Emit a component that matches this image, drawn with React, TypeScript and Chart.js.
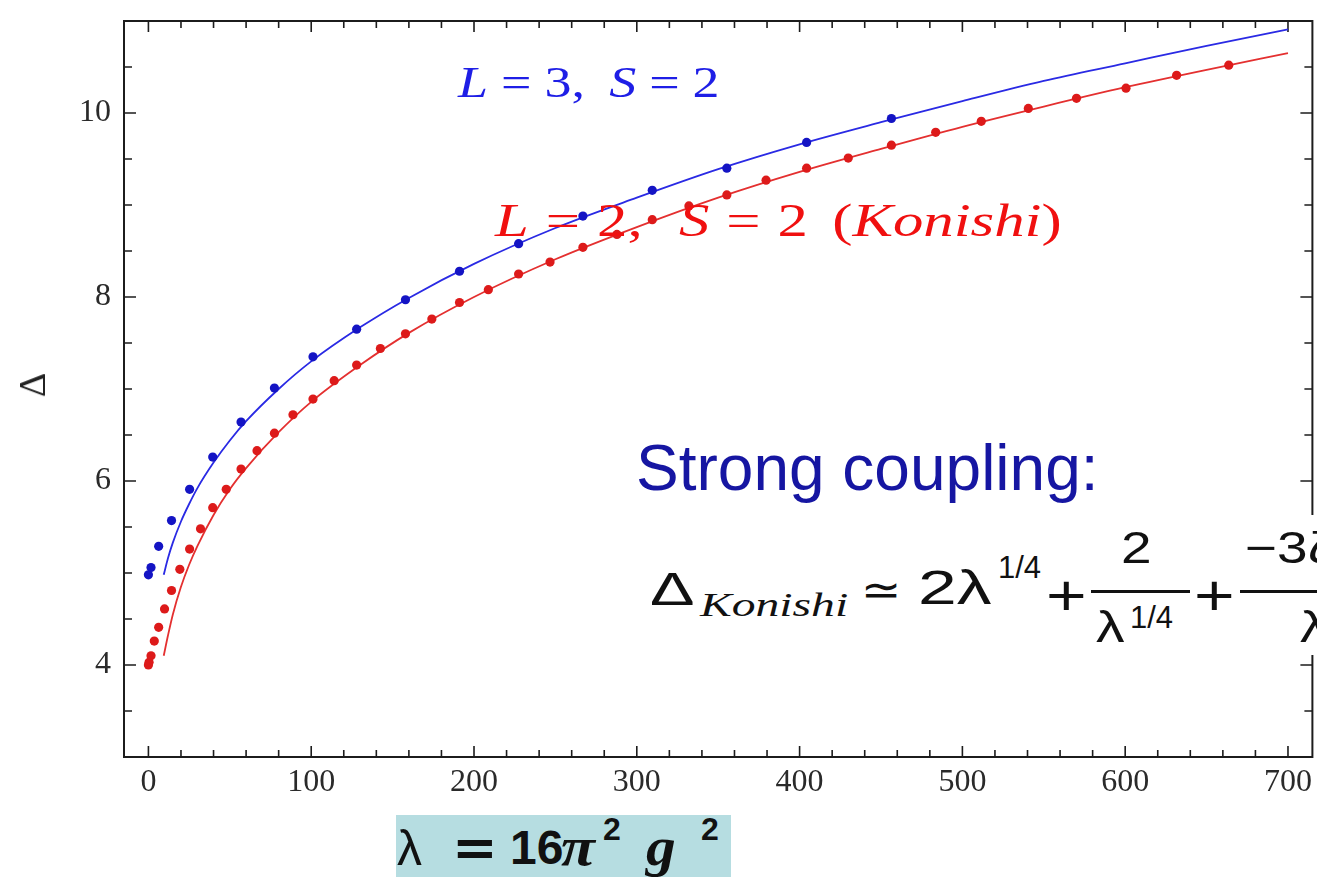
import React, { useEffect, useRef } from 'react';
import { Chart, registerables } from 'chart.js';

Chart.register(...registerables);

// ---------- data ----------
// Konishi (L = 2, S = 2) numerical points: lambda and Delta
const konishiLambda = [
  0, 0.4, 1.6, 3.6, 6.3, 9.9, 14.2, 19.3, 25.3, 32.0, 39.5, 47.8, 56.9, 66.7,
  77.4, 88.8, 101.1, 114.1, 127.9, 142.5, 157.9, 174.1, 191.1, 208.8, 227.4,
  246.7, 266.9, 287.8, 309.5, 332.0, 355.3, 379.4, 404.3, 429.9, 456.4, 483.6,
  511.6, 540.5, 570.1, 600.5, 631.6, 663.6,
];
const konishiDelta = [
  4.0, 4.03, 4.1, 4.26, 4.41, 4.61, 4.81, 5.04, 5.26, 5.48, 5.71, 5.91, 6.13,
  6.33, 6.52, 6.72, 6.89, 7.09, 7.26, 7.44, 7.6, 7.76, 7.94, 8.08, 8.25, 8.38,
  8.54, 8.68, 8.84, 8.99, 9.11, 9.27, 9.4, 9.51, 9.65, 9.79, 9.91, 10.05, 10.16,
  10.27, 10.41, 10.52,
];
// L = 3, S = 2 numerical points
const twistThreeLambda = [
  0, 1.6, 6.3, 14.2, 25.3, 39.5, 56.9, 77.4, 101.1, 127.9, 157.9, 191.1, 227.4,
  266.9, 309.5, 355.3, 404.3, 456.4,
];
const twistThreeDelta = [
  4.98, 5.06, 5.29, 5.57, 5.91, 6.26, 6.64, 7.01, 7.35, 7.65, 7.97, 8.28, 8.58,
  8.88, 9.16, 9.4, 9.68, 9.94,
];
// strong-coupling curves, sampled along lambda
const curveLambda = [
  9.4, 12, 15, 20, 25, 30, 40, 50, 60, 80, 100, 130, 160, 200, 250, 300, 350,
  400, 450, 500, 550, 600, 650, 700,
];
const konishiCurve = [
  4.1, 4.32, 4.55, 4.85, 5.09, 5.29, 5.63, 5.91, 6.14, 6.53, 6.86, 7.26, 7.61,
  8.0, 8.41, 8.76, 9.08, 9.36, 9.61, 9.85, 10.07, 10.28, 10.47, 10.65,
];
const twistThreeCurve = [
  4.98, 5.16, 5.33, 5.56, 5.75, 5.92, 6.2, 6.44, 6.65, 7.0, 7.3, 7.67, 7.99,
  8.36, 8.75, 9.08, 9.39, 9.66, 9.9, 10.13, 10.35, 10.54, 10.73, 10.91,
];
// axis ticks
const xTicks = [0, 100, 200, 300, 400, 500, 600, 700];
const yTicks = [4, 6, 8, 10];
const xMinorStep = 20;
const yMinorStep = 0.5;

const SERIF = '"Liberation Serif", "Times New Roman", serif';
const SANS = '"Liberation Sans", Arial, sans-serif';
const DSANS = '"DejaVu Sans", sans-serif';

const framePlugin = {
  id: 'mmaFrame',
  beforeDatasetsDraw(chart: any) {
    const { ctx, chartArea, scales } = chart;
    const { left, right, top, bottom } = chartArea;
    const xs = scales.x;
    const ys = scales.y;
    ctx.save();
    ctx.strokeStyle = '#1c1c1c';
    ctx.lineWidth = 1.6;
    ctx.beginPath();
    for (let v = xTicks[0]; v <= xTicks[xTicks.length - 1] + 1e-9; v += xMinorStep) {
      const p = xs.getPixelForValue(v);
      const major = xTicks.includes(v);
      const len = major ? 11 : 7;
      ctx.moveTo(p, bottom);
      ctx.lineTo(p, bottom - len);
      ctx.moveTo(p, top);
      ctx.lineTo(p, top + len);
    }
    for (let v = ys.min + yMinorStep; v < ys.max - 1e-9; v += yMinorStep) {
      const p = ys.getPixelForValue(v);
      const major = yTicks.some((t) => Math.abs(t - v) < 1e-6);
      const len = major ? 12 : 8;
      ctx.moveTo(left, p);
      ctx.lineTo(left + len, p);
      ctx.moveTo(right, p);
      ctx.lineTo(right - len, p);
    }
    ctx.stroke();
    ctx.lineWidth = 2;
    ctx.strokeRect(left, top, right - left, bottom - top);
    ctx.restore();
  },
};

type TP = {
  x: number;
  base: number;
  size: number;
  fam?: string;
  italic?: boolean;
  bold?: boolean;
  color?: string;
  sx?: number;
  children: React.ReactNode;
};

function T({ x, base, size, fam = SANS, italic, bold, color = '#111', sx = 1, children }: TP) {
  const k = fam === SERIF ? 0.8375 : 0.8465;
  return (
    <div
      style={{
        position: 'absolute',
        left: x,
        top: base - k * size,
        fontFamily: fam,
        fontSize: size,
        lineHeight: `${size}px`,
        fontStyle: italic ? 'italic' : 'normal',
        fontWeight: bold ? 700 : 400,
        color,
        whiteSpace: 'nowrap',
        transform: sx !== 1 ? `scaleX(${sx})` : undefined,
        transformOrigin: '0 0',
      }}
    >
      {children}
    </div>
  );
}

const up: React.CSSProperties = { fontStyle: 'normal' };

export default function App() {
  const canvasRef = useRef<HTMLCanvasElement | null>(null);

  useEffect(() => {
    const canvas = canvasRef.current;
    if (!canvas) return;
    const chart = new Chart(canvas, {
      type: 'scatter',
      data: {
        datasets: [
          {
            label: 'L = 3, S = 2',
            data: twistThreeLambda.map((x, i) => ({ x, y: twistThreeDelta[i] })),
            backgroundColor: '#1414c4',
            borderColor: '#1414c4',
            pointRadius: 4.6,
            pointBorderWidth: 0,
            showLine: false,
          },
          {
            label: 'L = 2, S = 2 (Konishi)',
            data: konishiLambda.map((x, i) => ({ x, y: konishiDelta[i] })),
            backgroundColor: '#dd1a1a',
            borderColor: '#dd1a1a',
            pointRadius: 4.6,
            pointBorderWidth: 0,
            showLine: false,
          },
          {
            label: 'L = 3 strong coupling',
            data: curveLambda.map((x, i) => ({ x, y: twistThreeCurve[i] })),
            borderColor: '#2a2ae4',
            borderWidth: 1.8,
            pointRadius: 0,
            showLine: true,
            cubicInterpolationMode: 'monotone',
          },
          {
            label: 'Konishi strong coupling',
            data: curveLambda.map((x, i) => ({ x, y: konishiCurve[i] })),
            borderColor: '#e43030',
            borderWidth: 1.8,
            pointRadius: 0,
            showLine: true,
            cubicInterpolationMode: 'monotone',
          },
        ],
      },
      options: {
        animation: false,
        responsive: false,
        layout: { padding: { top: 21, right: 4, left: 0, bottom: 0 } },
        plugins: { legend: { display: false }, tooltip: { enabled: false } },
        scales: {
          x: {
            type: 'linear',
            min: -15,
            max: 715,
            afterBuildTicks: (s: any) => {
              s.ticks = xTicks.map((v) => ({ value: v }));
            },
            afterFit: (s: any) => {
              s.height = 120;
              s.paddingLeft = 0;
              s.paddingRight = 0;
            },
            ticks: {
              font: { family: 'Liberation Serif', size: 32 },
              color: '#2a2a2a',
              padding: 6,
              maxRotation: 0,
              autoSkip: false,
            },
            grid: { display: false, drawTicks: false },
            border: { display: false },
          },
          y: {
            type: 'linear',
            min: 3,
            max: 11,
            afterBuildTicks: (s: any) => {
              s.ticks = yTicks.map((v) => ({ value: v }));
            },
            afterFit: (s: any) => {
              s.width = 124;
              s.paddingTop = 0;
              s.paddingBottom = 0;
            },
            ticks: {
              font: { family: 'Liberation Serif', size: 32 },
              color: '#2a2a2a',
              padding: 13,
              autoSkip: false,
            },
            grid: { display: false, drawTicks: false },
            border: { display: false },
          },
        },
      } as any,
      plugins: [framePlugin],
    });
    return () => chart.destroy();
  }, []);

  const eq: React.CSSProperties = { fontStyle: 'normal', margin: '0 0.24em' };

  return (
    <div
      style={{
        position: 'absolute',
        left: 0,
        top: 0,
        width: 1317,
        height: 877,
        overflow: 'hidden',
        background: '#fff',
      }}
    >
      <canvas ref={canvasRef} width={1317} height={877} style={{ position: 'absolute', left: 0, top: 0 }} />

      {/* y axis title */}
      <div
        style={{
          position: 'absolute',
          left: 32,
          top: 385,
          transform: 'translate(-50%, -50%) rotate(-90deg)',
          fontFamily: SERIF,
          fontSize: 38,
          lineHeight: '38px',
          color: '#222',
        }}
      >
        Δ
      </div>

      {/* series labels */}
      <T x={458} base={98} size={45} fam={SERIF} italic color="#1e1ee6" sx={1.2}>
        L<span style={eq}>=</span>
        <span style={up}>3,</span>
        <span style={{ marginLeft: '0.45em' }} />S<span style={eq}>=</span>
        <span style={up}>2</span>
      </T>
      <T x={495} base={237} size={46} fam={SERIF} italic color="#f01010" sx={1.32}>
        L<span style={{ ...eq, margin: '0 0.28em' }}>=</span>
        <span style={up}>2,</span>
        <span style={{ marginLeft: '0.6em' }} />S<span style={{ ...eq, margin: '0 0.28em' }}>=</span>
        <span style={up}>2</span>
        <span style={{ ...up, marginLeft: '0.4em' }}>(</span>Konishi<span style={up}>)</span>
      </T>

      {/* strong coupling text */}
      <T x={636} base={490} size={64} fam={SANS} color="#1616a2">
        Strong coupling:
      </T>

      {/* formula */}
      <div
        style={{
          position: 'absolute',
          left: 615,
          top: 515,
          width: 702,
          height: 140,
          background: '#fff',
          overflow: 'hidden',
        }}
      >
        <div style={{ position: 'absolute', left: -615, top: -515, width: 1317, height: 877 }}>
          <T x={650} base={605} size={46} fam={SANS} sx={1.45}>
            Δ
          </T>
          <T x={700} base={616} size={34} fam={SERIF} italic sx={1.4}>
            Konishi
          </T>
          <T x={861} base={605} size={44} fam={DSANS} sx={1.1}>
            ≃
          </T>
          <T x={918} base={605} size={48} fam={SANS} sx={1.45}>
            2λ
          </T>
          <T x={998} base={578} size={31} fam={SANS}>
            1/4
          </T>
          <T x={1046} base={615} size={58} fam={SANS} sx={1.2}>
            +
          </T>
          <T x={1121} base={563} size={44} fam={SANS} sx={1.25}>
            2
          </T>
          <div style={{ position: 'absolute', left: 1091, top: 590, width: 99, height: 2.5, background: '#111' }} />
          <T x={1096} base={642} size={44} fam={SANS} sx={1.3}>
            λ
          </T>
          <T x={1130} base={628} size={31} fam={SANS}>
            1/4
          </T>
          <T x={1194} base={615} size={58} fam={SANS} sx={1.2}>
            +
          </T>
          <div style={{ position: 'absolute', left: 1240, top: 590, width: 200, height: 2.5, background: '#111' }} />
          <T x={1245} base={563} size={44} fam={SANS} sx={1.25}>
            −3ζ(3)+1/2
          </T>
          <T x={1300} base={642} size={44} fam={SANS} sx={1.3}>
            λ
          </T>
        </div>
      </div>

      {/* lambda definition box */}
      <div
        style={{
          position: 'absolute',
          left: 396,
          top: 815,
          width: 335,
          height: 62,
          background: '#b6dde1',
          overflow: 'hidden',
        }}
      >
        <div style={{ position: 'absolute', left: -396, top: -815, width: 1317, height: 877 }}>
          <T x={397} base={865} size={50} fam={SANS}>
            λ
          </T>
          <T x={452} base={865} size={52} fam={DSANS} bold sx={1.05}>
            =
          </T>
          <T x={510} base={865} size={48} fam={SANS} bold>
            16
          </T>
          <T x={561} base={865} size={54} fam={SERIF} italic bold sx={1.15}>
            π
          </T>
          <T x={603} base={840} size={32} fam={SANS} bold>
            2
          </T>
          <T x={646} base={865} size={54} fam={SERIF} italic bold sx={1.1}>
            g
          </T>
          <T x={701} base={840} size={32} fam={SANS} bold>
            2
          </T>
        </div>
      </div>
    </div>
  );
}
